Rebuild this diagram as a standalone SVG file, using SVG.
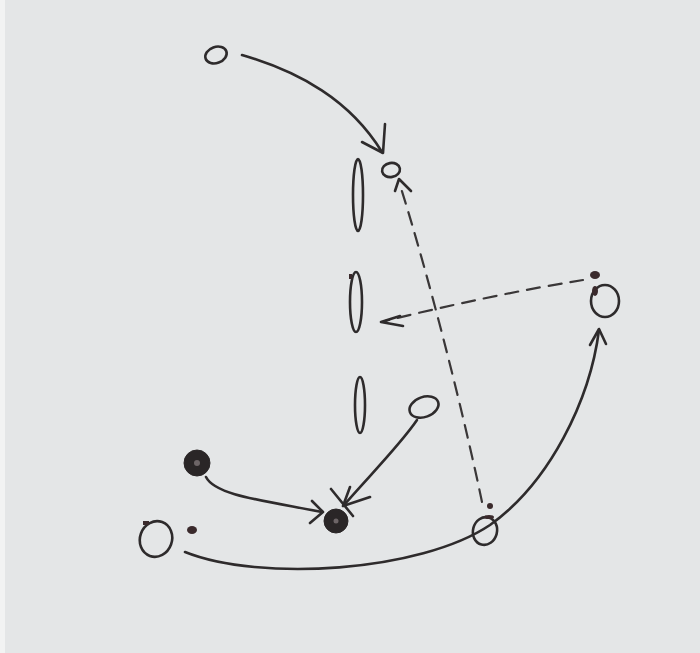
<svg xmlns="http://www.w3.org/2000/svg" width="700" height="653" viewBox="0 0 700 653">
<style>
.ln{fill:none;stroke:#2e2b2c;stroke-width:2.6;stroke-linecap:round;stroke-linejoin:round}
.ds{fill:none;stroke:#3a3738;stroke-width:2.2;stroke-dasharray:13 9;stroke-linecap:round}
.nd{fill:none;stroke:#2e2b2c;stroke-width:2.6}
.fl{fill:#2a2627;stroke:#2a2627}
.dk{fill:#3a2a2c}
</style>
<rect width="700" height="653" fill="#e4e6e7"/>
<rect x="0" y="0" width="5" height="653" fill="#f2f3f3"/>
<g id="nodes">
<g id="n-top"><ellipse class="nd" cx="216" cy="55" rx="11" ry="8" transform="rotate(-20 216 55)"/></g>
<g id="n-alpha"><ellipse class="nd" cx="391" cy="170" rx="9" ry="7" transform="rotate(-10 391 170)"/></g>
<g id="n-v1"><ellipse class="nd" cx="358" cy="195" rx="5" ry="36"/></g>
<g id="n-v2"><ellipse class="nd" cx="356" cy="302" rx="6" ry="30"/><rect class="dk" x="349" y="274" width="3" height="5"/></g>
<g id="n-v3"><ellipse class="nd" cx="360" cy="405" rx="5" ry="28"/></g>
<g id="n-right"><ellipse class="nd" cx="605" cy="301" rx="14" ry="16"/><ellipse class="dk" cx="595" cy="275" rx="5" ry="4"/><ellipse class="dk" cx="595" cy="291" rx="3" ry="5"/></g>
<g id="n-mid"><ellipse class="nd" cx="424" cy="407" rx="15" ry="10" transform="rotate(-20 424 407)"/></g>
<g id="n-black1"><circle class="fl" cx="197" cy="463" r="13"/><circle cx="197" cy="463" r="3" fill="#6d6567"/></g>
<g id="n-black2"><circle class="fl" cx="336" cy="521" r="12"/><circle cx="336" cy="521" r="2.5" fill="#6d6567"/></g>
<g id="n-bottomleft"><ellipse class="nd" cx="156" cy="539" rx="16" ry="18" transform="rotate(20 156 539)"/><ellipse class="dk" cx="192" cy="530" rx="5" ry="4"/><rect class="dk" x="143" y="521" width="6" height="4"/></g>
<g id="n-bottommid"><ellipse class="nd" cx="485" cy="531" rx="12" ry="14" transform="rotate(15 485 531)"/><ellipse class="dk" cx="490" cy="506" rx="3" ry="3"/><ellipse class="dk" cx="489" cy="517" rx="5" ry="2"/></g>
</g>
<g id="connectors">
<path class="ln" d="M242,55 C 300,72 350,100 382,152"/>
<path class="ln" d="M362,142 L383,153 L385,124"/>
<path class="ds" d="M583,280 C 520,290 450,305 385,321"/>
<path class="ln" d="M400,316 L381,322 L403,326"/>
<path class="ds" d="M482,502 C 465,420 430,280 400,185"/>
<path class="ln" d="M395,191 L399,179 L411,191"/>
<path class="ln" d="M185,552 C 260,582 420,572 490,525 C 550,482 590,400 599,330"/>
<path class="ln" d="M590,345 L599,329 L606,344"/>
<path class="ln" d="M206,477 C 215,495 260,500 322,512"/>
<path class="ln" d="M312,501 L323,512 L310,523"/>
<path class="ln" d="M417,420 C 400,445 370,475 344,505"/>
<path class="ln" d="M350,487 L343,506 L370,497 M331,489 L353,516"/>
</g>
</svg>
